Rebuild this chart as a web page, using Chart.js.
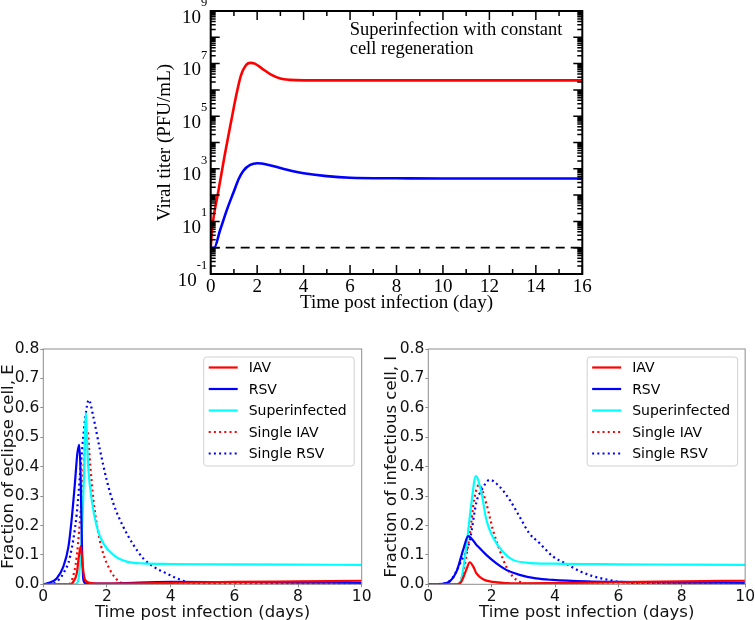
<!DOCTYPE html>
<html>
<head>
<meta charset="utf-8">
<script src="https://cdn.jsdelivr.net/npm/chart.js@4.4.0/dist/chart.umd.min.js"></script>
<style>
  body { margin: 0; background: #fff; width: 755px; height: 620px; position: relative; overflow: hidden; }
  canvas { position: absolute; }
</style>
</head>
<body>
<canvas id="titer" width="470" height="320" style="left:140px;top:0"></canvas>
<canvas id="eclipse" width="375" height="290" style="left:0;top:330px"></canvas>
<canvas id="infectious" width="380" height="290" style="left:375px;top:330px"></canvas>
<script>
const SERIF = "'Liberation Serif', 'Times New Roman', serif";
const SANS = "'DejaVu Sans', 'Liberation Sans', sans-serif";

/* ================= DATA ================= */

// top panel: viral titer (PFU/mL) vs day
const titerDaysIAV = [0, 0.1, 0.3, 0.6, 0.9, 1.1, 1.3, 1.5, 1.7, 1.9, 2.2, 2.6, 3.0, 3.4, 4, 6, 8, 10, 12, 14, 16];
const titerIAV = [1, 10, 100, 3.2e3, 7.9e4, 6.3e5, 3.5e6, 8.3e6, 1.07e7, 1.0e7, 6.6e6, 3.8e6, 2.7e6, 2.4e6, 2.3e6, 2.3e6, 2.3e6, 2.3e6, 2.3e6, 2.3e6, 2.3e6];
const titerDaysRSV = [0, 0.15, 0.4, 0.7, 1.0, 1.2, 1.4, 1.7, 2.0, 2.5, 3.0, 3.5, 4, 5, 6, 8, 10, 12, 14, 16];
const titerRSV = [1, 1, 4.5, 28, 140, 400, 830, 1400, 1620, 1400, 1070, 830, 680, 525, 457, 437, 427, 427, 427, 427];
const limitDays = [0, 16];
const limitTiter = [1, 1];
const titerExponents = [-1, 1, 3, 5, 7, 9];
const titerNote = ["Superinfection with constant", "cell regeneration"];

// bottom panels: series order
const seriesLabels = ["IAV", "RSV", "Superinfected", "Single IAV", "Single RSV"];
const seriesColors = ["#ff0000", "#0000ff", "#00ffff", "#ff0000", "#0000ff"];

// eclipse cells, E
const eDaysIAV = [0, 0.85, 0.95, 1.05, 1.13, 1.18, 1.24, 1.31, 1.47, 2, 3, 4, 6, 8, 10];
const eIAV = [0, 0, 0.01, 0.037, 0.105, 0.13, 0.06, 0.015, 0.005, 0.002, 0.003, 0.005, 0.008, 0.01, 0.012];
const eDaysRSV = [0, 0.21, 0.42, 0.63, 0.79, 0.89, 0.99, 1.07, 1.13, 1.17, 1.21, 1.26, 1.35, 2, 3, 4, 6, 8, 10];
const eRSV = [0, 0.006, 0.02, 0.06, 0.128, 0.22, 0.34, 0.445, 0.474, 0.38, 0.15, 0.015, 0.002, 0.002, 0.006, 0.008, 0.007, 0.006, 0.005];
const eDaysSuper = [0, 1.0, 1.1, 1.2, 1.28, 1.33, 1.41, 1.52, 1.68, 1.88, 2.2, 2.62, 3.14, 4, 6, 8, 10];
const eSuper = [0, 0, 0.015, 0.15, 0.38, 0.584, 0.4, 0.287, 0.196, 0.14, 0.1, 0.077, 0.071, 0.069, 0.068, 0.067, 0.066];
const eDaysSingleIAV = [0, 0.8, 0.9, 1.05, 1.2, 1.31, 1.39, 1.47, 1.57, 1.73, 1.88, 2.09, 2.3, 2.51, 3, 10];
const eSingleIAV = [0, 0, 0.015, 0.094, 0.29, 0.47, 0.52, 0.41, 0.29, 0.173, 0.105, 0.05, 0.017, 0.003, 0, 0];
const eDaysSingleRSV = [0, 0.2, 0.42, 0.63, 0.84, 1.05, 1.2, 1.31, 1.43, 1.57, 1.78, 1.99, 2.2, 2.51, 2.83, 3.14, 3.46, 3.87, 4.2, 4.5, 5, 6, 10];
const eSingleRSV = [0, 0.002, 0.009, 0.037, 0.094, 0.24, 0.434, 0.56, 0.627, 0.57, 0.457, 0.355, 0.275, 0.196, 0.134, 0.088, 0.06, 0.037, 0.02, 0.008, 0.002, 0, 0];

// infectious cells, I
const iDaysIAV = [0, 0.9, 1.05, 1.2, 1.31, 1.42, 1.52, 1.73, 2.04, 2.5, 3, 4, 6, 8, 10];
const iIAV = [0, 0, 0.01, 0.05, 0.075, 0.06, 0.037, 0.017, 0.008, 0.004, 0.003, 0.004, 0.007, 0.01, 0.012];
const iDaysRSV = [0, 0.4, 0.68, 0.89, 1.1, 1.26, 1.52, 1.83, 2.15, 2.46, 2.88, 3.4, 3.93, 5, 6, 8, 10];
const iRSV = [0, 0.001, 0.01, 0.043, 0.117, 0.164, 0.134, 0.1, 0.071, 0.049, 0.032, 0.02, 0.015, 0.01, 0.008, 0.006, 0.005];
const iDaysSuper = [0, 0.94, 1.05, 1.2, 1.36, 1.5, 1.68, 1.83, 2.04, 2.36, 2.67, 3.09, 4, 6, 8, 10];
const iSuper = [0, 0, 0.02, 0.128, 0.275, 0.368, 0.31, 0.22, 0.16, 0.11, 0.083, 0.074, 0.07, 0.068, 0.067, 0.066];
const iDaysSingleIAV = [0, 0.95, 1.1, 1.31, 1.45, 1.6, 1.83, 2.04, 2.25, 2.46, 2.67, 2.88, 3.2, 10];
const iSingleIAV = [0, 0, 0.04, 0.17, 0.29, 0.338, 0.275, 0.185, 0.117, 0.06, 0.026, 0.009, 0, 0];
const iDaysSingleRSV = [0, 0.5, 0.75, 1.0, 1.31, 1.52, 1.68, 1.94, 2.25, 2.57, 2.88, 3.19, 3.51, 3.93, 4.35, 4.77, 5.18, 5.6, 6, 7, 10];
const iSingleRSV = [0, 0.003, 0.02, 0.07, 0.15, 0.28, 0.32, 0.355, 0.332, 0.287, 0.23, 0.173, 0.14, 0.095, 0.07, 0.045, 0.028, 0.017, 0.009, 0.003, 0.002];

/* ================= HELPERS ================= */

function el(id) {
  return document.getElementById(id);
}

function pts(xs, ys) {
  return xs.map((x, i) => ({ x: x, y: ys[i] }));
}

/* ================= TOP: VIRAL TITER ================= */

// xmgrace-like frame, inward ticks, 10^n labels, note text
const titerDecor = {
  id: "titerDecor",
  afterDraw(chart) {
    const ctx = chart.ctx;
    const a = chart.chartArea;
    const xs = chart.scales.x;
    const ys = chart.scales.y;
    ctx.save();
    ctx.strokeStyle = "#000";
    ctx.lineWidth = 2;
    ctx.strokeRect(a.left, a.top, a.right - a.left, a.bottom - a.top);

    ctx.lineWidth = 1.5;
    ctx.beginPath();
    for (let d = 0; d <= 16; d++) {
      const px = xs.getPixelForValue(d);
      const len = d % 2 === 0 ? 9 : 5;
      ctx.moveTo(px, a.bottom); ctx.lineTo(px, a.bottom - len);
      ctx.moveTo(px, a.top); ctx.lineTo(px, a.top + len);
    }
    for (let e = -1; e <= 9; e++) {
      for (let k = 1; k <= 9; k++) {
        if (e === 9 && k > 1) break;
        const py = ys.getPixelForValue(k * Math.pow(10, e));
        const len = k === 1 ? 9 : 5;
        ctx.moveTo(a.left, py); ctx.lineTo(a.left + len, py);
        ctx.moveTo(a.right, py); ctx.lineTo(a.right - len, py);
      }
    }
    ctx.stroke();

    // y labels: 10 with a raised exponent
    ctx.fillStyle = "#000";
    ctx.textAlign = "right";
    ctx.textBaseline = "alphabetic";
    titerExponents.forEach((e) => {
      const py = ys.getPixelForValue(Math.pow(10, e));
      const exp = String(e);
      ctx.font = "12.5px " + SERIF;
      const w = ctx.measureText(exp).width;
      const right = a.left - 3.5;
      ctx.fillText(exp, right, py - 5);
      ctx.font = "19px " + SERIF;
      ctx.fillText("10", right - w, py + 11.5);
    });

    ctx.textAlign = "left";
    ctx.font = "18.5px " + SERIF;
    ctx.fillText(titerNote[0], a.left + 139, 35);
    ctx.fillText(titerNote[1], a.left + 139, 53.5);
    ctx.restore();
  },
};

new Chart(el("titer"), {
  type: "line",
  data: {
    datasets: [
      { label: "IAV", data: pts(titerDaysIAV, titerIAV), borderColor: "#ff0000", borderWidth: 2.6 },
      { label: "RSV", data: pts(titerDaysRSV, titerRSV), borderColor: "#0000ff", borderWidth: 2.6 },
      { label: "limit", data: pts(limitDays, limitTiter), borderColor: "#000", borderWidth: 1.8, borderDash: [9, 6], cubicInterpolationMode: "default", tension: 0 },
    ],
  },
  options: {
    responsive: false,
    animation: false,
    layout: { padding: { left: 0, right: 27.7, top: 11, bottom: 0 } },
    elements: { point: { radius: 0 }, line: { cubicInterpolationMode: "monotone", fill: false } },
    plugins: { legend: { display: false }, tooltip: { enabled: false } },
    scales: {
      x: {
        type: "linear", min: 0, max: 16,
        grid: { display: false, drawTicks: false },
        border: { display: false },
        ticks: { stepSize: 2, color: "#000", padding: 2, font: { family: SERIF, size: 19 }, maxRotation: 0 },
        title: { display: true, text: "Time post infection (day)", color: "#000", font: { family: SERIF, size: 19 }, padding: { top: 0, bottom: 6 } },
        afterFit(s) { s.height = 46; },
      },
      y: {
        type: "logarithmic", min: 0.1, max: 1e9,
        grid: { display: false, drawTicks: false },
        border: { display: false },
        afterBuildTicks(s) { s.ticks = titerExponents.map((e) => ({ value: Math.pow(10, e) })); },
        ticks: { display: false },
        title: { display: true, text: "Viral titer (PFU/mL)", color: "#000", font: { family: SERIF, size: 19 }, padding: { top: 14, bottom: 0 } },
        afterFit(s) { s.width = 70.7; },
      },
    },
  },
  plugins: [titerDecor],
});

/* ================= BOTTOM: CELL FRACTIONS ================= */

const cellDecor = {
  id: "cellDecor",
  afterDraw(chart) {
    const ctx = chart.ctx;
    const a = chart.chartArea;
    ctx.save();
    ctx.strokeStyle = "#8c8c8c";
    ctx.lineWidth = 1;
    ctx.strokeRect(a.left, a.top, a.right - a.left, a.bottom - a.top);

    // legend box in upper right
    const bw = 150.5, bh = 109;
    const bx = a.right - 7.5 - bw, by = a.top + 8;
    ctx.fillStyle = "rgba(255,255,255,0.85)";
    ctx.strokeStyle = "#d0d0d0";
    ctx.beginPath();
    ctx.roundRect(bx, by, bw, bh, 3);
    ctx.fill();
    ctx.stroke();
    ctx.font = "14px " + SANS;
    ctx.textBaseline = "middle";
    ctx.textAlign = "left";
    chart.data.datasets.forEach((ds, i) => {
      const y = by + 10.5 + i * 21.5;
      ctx.strokeStyle = ds.borderColor;
      ctx.lineWidth = ds.borderWidth;
      ctx.setLineDash(ds.borderDash || []);
      ctx.beginPath();
      ctx.moveTo(bx + 5, y);
      ctx.lineTo(bx + 34, y);
      ctx.stroke();
      ctx.setLineDash([]);
      ctx.fillStyle = "#000";
      ctx.fillText(ds.label, bx + 45, y + 1);
    });
    ctx.restore();
  },
};

function cellChart(id, yTitle, sets, yWidth, rightPad, yTitlePad) {
  return new Chart(el(id), {
    type: "line",
    data: {
      datasets: sets.map((s, i) => ({
        label: seriesLabels[i],
        data: pts(s[0], s[1]),
        borderColor: seriesColors[i],
        borderWidth: 2.2,
        borderDash: i >= 3 ? [2, 3.2] : [],
      })),
    },
    options: {
      responsive: false,
      animation: false,
      layout: { padding: { left: 0, right: rightPad, top: 19, bottom: 0 } },
      elements: { point: { radius: 0 }, line: { cubicInterpolationMode: "monotone", fill: false } },
      plugins: { legend: { display: false }, tooltip: { enabled: false } },
      scales: {
        x: {
          type: "linear", min: 0, max: 10,
          grid: { drawOnChartArea: false, drawTicks: true, tickLength: 3, color: "#8c8c8c" },
          border: { display: false },
          ticks: { stepSize: 2, color: "#111", padding: 0, font: { family: SANS, size: 15.5 }, maxRotation: 0 },
          title: { display: true, text: "Time post infection (days)", color: "#111", font: { family: SANS, size: 16.5 }, padding: { top: 0, bottom: -2.5 } },
          afterFit(s) { s.height = 35.7; },
        },
        y: {
          type: "linear", min: 0, max: 0.8,
          grid: { drawOnChartArea: false, drawTicks: true, tickLength: 3, color: "#8c8c8c" },
          border: { display: false },
          ticks: { stepSize: 0.1, color: "#111", padding: 1, font: { family: SANS, size: 15.5 }, callback: (v) => v.toFixed(1) },
          title: { display: true, text: yTitle, color: "#111", font: { family: SANS, size: 16.5 }, padding: { top: yTitlePad, bottom: 0 } },
          afterFit(s) { s.width = yWidth; },
        },
      },
    },
    plugins: [cellDecor],
  });
}

cellChart("eclipse", "Fraction of eclipse cell, E", [
  [eDaysIAV, eIAV],
  [eDaysRSV, eRSV],
  [eDaysSuper, eSuper],
  [eDaysSingleIAV, eSingleIAV],
  [eDaysSingleRSV, eSingleRSV],
], 43.3, 13.3, -1);

cellChart("infectious", "Fraction of infectious cell, I", [
  [iDaysIAV, iIAV],
  [iDaysRSV, iRSV],
  [iDaysSuper, iSuper],
  [iDaysSingleIAV, iSingleIAV],
  [iDaysSingleRSV, iSingleRSV],
], 53.3, 8.3, 7.3);
</script>
</body>
</html>
